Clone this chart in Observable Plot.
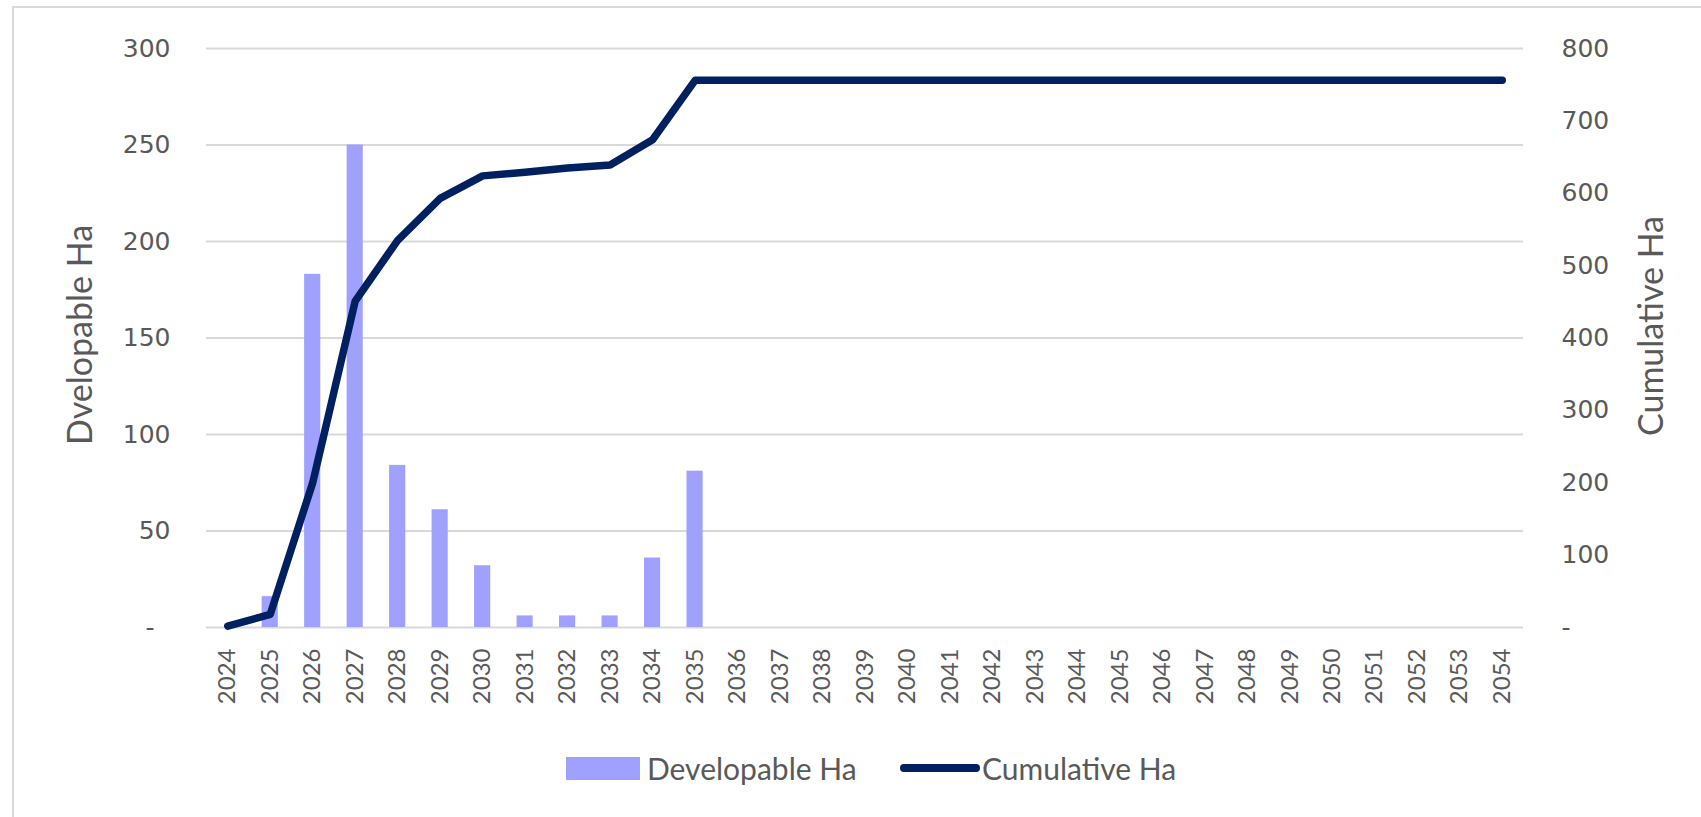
<!DOCTYPE html>
<html>
<head>
<meta charset="utf-8">
<script src="https://cdn.jsdelivr.net/npm/d3@7"></script>
<script src="https://cdn.jsdelivr.net/npm/@observablehq/plot@0.6"></script>
<style>
  html, body { margin: 0; padding: 0; background: #fff; }
  #wrap { position: relative; width: 1701px; height: 817px; overflow: hidden; background: #fff; }
  #frame { position: absolute; left: 12px; top: 6px; right: -10px; bottom: -10px;
           border-top: 2px solid #d9d9d9; border-left: 2px solid #d9d9d9; }
  .layer { position: absolute; left: 0; top: 0; }
  #legend { position: absolute; top: 748px; left: 0; width: 1701px; height: 40px;
            font-family: Lato, sans-serif; font-size: 30px; color: #595959; }
  .item { position: absolute; top: 0; height: 40px; display: flex; align-items: center; }
  .swatch-bar { width: 74px; height: 23px; margin-right: 7px; }
  .swatch-line { width: 80px; height: 8px; border-radius: 4px; margin-right: 2px; }
</style>
</head>
<body>
<div id="wrap">
  <div id="frame"></div>
  <div id="barLayer" class="layer"></div>
  <div id="lineLayer" class="layer"></div>
  <div id="legend"></div>
</div>
<script>
// ---- data ----
const years = ["2024","2025","2026","2027","2028","2029","2030","2031","2032","2033",
               "2034","2035","2036","2037","2038","2039","2040","2041","2042","2043",
               "2044","2045","2046","2047","2048","2049","2050","2051","2052","2053","2054"];
const developableHa = [0, 16, 183, 250, 84, 61, 32, 6, 6, 6,
                       36, 81, 0, 0, 0, 0, 0, 0, 0, 0,
                       0, 0, 0, 0, 0, 0, 0, 0, 0, 0, 0];
const cumulativeHa = [2, 18, 200, 451, 535, 593, 624, 629, 635, 639,
                      674, 756, 756, 756, 756, 756, 756, 756, 756, 756,
                      756, 756, 756, 756, 756, 756, 756, 756, 756, 756, 756];
const leftTicks = [0, 50, 100, 150, 200, 250, 300];
const rightTicks = [0, 100, 200, 300, 400, 500, 600, 700, 800];
const seriesNames = ["Developable Ha", "Cumulative Ha"];
const leftTitle = "Dvelopable Ha";
const rightTitle = "Cumulative Ha";

const barColor = "#a0a0ff";
const lineColor = "#002060";
const textColor = "#595959";

const rows = years.map((y, i) => ({year: y, dev: developableHa[i], cum: cumulativeHa[i]}));

const W = 1701, H = 730;
const common = {
  width: W, height: H,
  marginLeft: 206, marginRight: 178, marginTop: 48, marginBottom: 103,
  style: {background: "transparent", color: textColor, overflow: "visible"},
  x: {type: "band", domain: years, paddingInner: 0.62, paddingOuter: 0.31, round: false}
};

const barPlot = Plot.plot({
  ...common,
  y: {domain: [0, 300]},
  marks: [
    Plot.gridY(leftTicks, {stroke: "#d9d9d9", strokeOpacity: 1, strokeWidth: 2}),
    Plot.barY(rows, {x: "year", y: "dev", fill: barColor}),
    Plot.axisY(leftTicks, {
      anchor: "left", tickSize: 0, tickPadding: 36, label: null,
      tickFormat: d => d === 0 ? "-\u00a0\u00a0" : String(d),
      fontFamily: "DejaVu Sans", fontSize: 25, fill: textColor
    }),
    Plot.axisX({
      anchor: "bottom", tickSize: 0, tickPadding: 21, tickRotate: -90, label: null,
      fontFamily: "Lato", fontSize: 24, fill: textColor
    }),
    Plot.text([leftTitle], {
      text: d => d, frameAnchor: "left", textAnchor: "middle", dx: -125, dy: -3, rotate: -90,
      fontFamily: "Lato", fontSize: 34, fill: textColor
    })
  ]
});

const linePlot = Plot.plot({
  ...common,
  y: {domain: [0, 800]},
  marks: [
    Plot.line(rows, {x: "year", y: "cum", stroke: lineColor, strokeWidth: 7.5,
                     strokeLinejoin: "round", strokeLinecap: "round"}),
    Plot.axisY(rightTicks, {
      anchor: "right", tickSize: 0, tickPadding: 38, label: null,
      tickFormat: d => d === 0 ? "-" : String(d),
      fontFamily: "DejaVu Sans", fontSize: 25, fill: textColor
    }),
    Plot.axisX({ticks: [], label: null, tickSize: 0}),
    Plot.text([rightTitle], {
      text: d => d, frameAnchor: "right", textAnchor: "middle", dx: 129, dy: -12, rotate: -90,
      fontFamily: "Lato", fontSize: 34, fill: textColor
    })
  ]
});

document.getElementById("barLayer").appendChild(barPlot);
document.getElementById("lineLayer").appendChild(linePlot);

// legend
const legend = document.getElementById("legend");
const it1 = document.createElement("div");
it1.className = "item"; it1.style.left = "566px";
it1.innerHTML = `<div class="swatch-bar" style="background:${barColor}"></div><span>${seriesNames[0]}</span>`;
const it2 = document.createElement("div");
it2.className = "item"; it2.style.left = "900px";
it2.innerHTML = `<div class="swatch-line" style="background:${lineColor}"></div><span>${seriesNames[1]}</span>`;
legend.appendChild(it1);
legend.appendChild(it2);
</script>
</body>
</html>
